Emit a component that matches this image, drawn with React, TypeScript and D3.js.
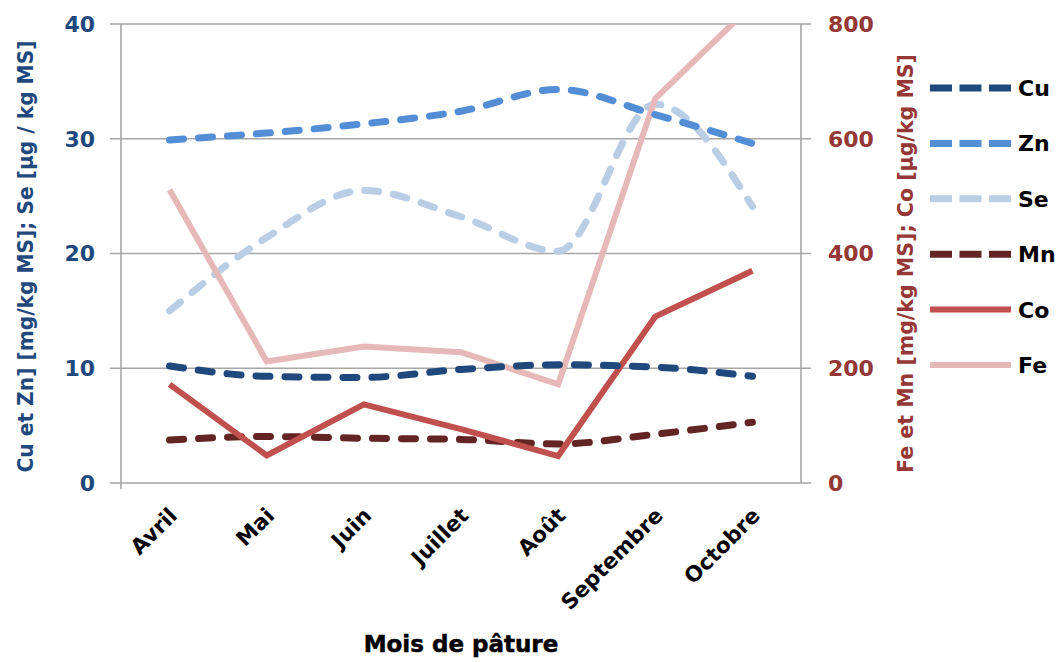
import React from "react";
import * as d3 from "d3";

// Months of grazing (categories)
const months = ["Avril", "Mai", "Juin", "Juillet", "Août", "Septembre", "Octobre"];

// Left axis series: Cu & Zn in mg/kg MS, Se in µg/kg MS
const cu = [10.2, 9.3, 9.2, 9.9, 10.3, 10.1, 9.3];
const zn = [29.9, 30.5, 31.3, 32.4, 34.3, 32.1, 29.6];
const se = [15.0, 21.4, 25.5, 23.2, 20.2, 33.0, 24.1];

// Right axis series: Fe & Mn in mg/kg MS, Co in µg/kg MS
const mn = [75, 81, 78, 76, 68, 85, 106];
const co = [172, 48, 137, 94, 47, 290, 370];
const fe = [511, 212, 238, 228, 172, 670, 834];

const leftTicks = [0, 10, 20, 30, 40];
const rightTicks = [0, 200, 400, 600, 800];

const leftTitle = "Cu et Zn] [mg/kg MS]; Se [µg / kg MS]";
const rightTitle = "Fe et Mn [mg/kg MS]; Co [µg/kg MS]";
const xTitle = "Mois de pâture";

type Series = {
  name: string;
  values: number[];
  axis: "left" | "right";
  color: string;
  dashed: boolean;
};

const series: Series[] = [
  { name: "Cu", values: cu, axis: "left", color: "#1F497D", dashed: true },
  { name: "Zn", values: zn, axis: "left", color: "#538DD5", dashed: true },
  { name: "Se", values: se, axis: "left", color: "#B9CDE5", dashed: true },
  { name: "Mn", values: mn, axis: "right", color: "#632523", dashed: true },
  { name: "Co", values: co, axis: "right", color: "#C0504D", dashed: false },
  { name: "Fe", values: fe, axis: "right", color: "#E6B9B8", dashed: false },
];

// drawing order (back to front)
const drawOrder = ["Mn", "Co", "Se", "Fe", "Zn", "Cu"];

const W = 1062;
const H = 662;
const plot = { left: 121, right: 801, top: 24, bottom: 483 };

const BLUE = "#1F497D";
const RED = "#953735";
const GRID = "#A6A6A6";
const numFont = "'DejaVu Sans', sans-serif";

export default function App() {
  const x = d3
    .scalePoint<string>()
    .domain(months)
    .range([plot.left, plot.right])
    .padding(0.5);
  const yL = d3.scaleLinear().domain([0, 40]).range([plot.bottom, plot.top]);
  const yR = d3.scaleLinear().domain([0, 800]).range([plot.bottom, plot.top]);

  const pathFor = (s: Series) => {
    const y = s.axis === "left" ? yL : yR;
    const gen = d3
      .line<number>()
      .x((_, i) => x(months[i]) as number)
      .y((v) => y(v))
      .curve(s.dashed ? d3.curveMonotoneX : d3.curveLinear);
    return gen(s.values) || "";
  };

  const legendX0 = 930;
  const legendX1 = 1011;
  const legendY0 = 88;
  const legendStep = 55.4;

  const titleMidY = (plot.top + plot.bottom) / 2;

  return (
    <svg
      width={W}
      height={H}
      viewBox={`0 0 ${W} ${H}`}
      style={{ position: "absolute", left: 0, top: 0, background: "#fff" }}
    >
      <defs>
        <clipPath id="plotClip">
          <rect
            x={plot.left - 10}
            y={plot.top}
            width={plot.right - plot.left + 20}
            height={plot.bottom - plot.top + 10}
          />
        </clipPath>
      </defs>

      {/* horizontal gridlines with tick marks on both axes */}
      {leftTicks.map((t) => (
        <line
          key={"g" + t}
          x1={110}
          x2={811}
          y1={yL(t)}
          y2={yL(t)}
          stroke={GRID}
          strokeWidth={1.6}
        />
      ))}
      {/* vertical axis lines */}
      <line x1={plot.left} x2={plot.left} y1={plot.top} y2={489} stroke={GRID} strokeWidth={1.6} />
      <line x1={plot.right} x2={plot.right} y1={plot.top} y2={plot.bottom} stroke={GRID} strokeWidth={1.6} />

      {/* left tick labels */}
      {leftTicks.map((t) => (
        <text
          key={"lt" + t}
          x={95}
          y={yL(t)}
          dy="0.36em"
          textAnchor="end"
          fill={BLUE}
          fontFamily={numFont}
          fontWeight="bold"
          fontSize={22}
        >
          {t}
        </text>
      ))}
      {/* right tick labels */}
      {rightTicks.map((t) => (
        <text
          key={"rt" + t}
          x={828}
          y={yR(t)}
          dy="0.36em"
          textAnchor="start"
          fill={RED}
          fontFamily={numFont}
          fontWeight="bold"
          fontSize={22}
        >
          {t}
        </text>
      ))}

      {/* axis titles */}
      <text
        transform={`translate(25, ${titleMidY + 3}) rotate(-90)`}
        textAnchor="middle"
        dy="0.36em"
        fill={BLUE}
        fontFamily={numFont}
        fontWeight="bold"
        fontSize={21}
        textLength={432}
        lengthAdjust="spacingAndGlyphs"
      >
        {leftTitle}
      </text>
      <text
        transform={`translate(905, ${titleMidY + 10}) rotate(-90)`}
        textAnchor="middle"
        dy="0.36em"
        fill={RED}
        fontFamily={numFont}
        fontWeight="bold"
        fontSize={21}
        textLength={419}
        lengthAdjust="spacingAndGlyphs"
      >
        {rightTitle}
      </text>

      {/* category labels */}
      {months.map((m) => (
        <text
          key={m}
          transform={`translate(${(x(m) as number) + 9}, 517) rotate(-45)`}
          textAnchor="end"
          fill="#000"
          fontFamily={numFont}
          fontWeight="bold"
          fontSize={21.5}
        >
          {m}
        </text>
      ))}
      <text
        x={(plot.left + plot.right) / 2}
        y={652}
        textAnchor="middle"
        fill="#000"
        stroke="#000"
        strokeWidth={0.5}
        fontFamily={numFont}
        fontWeight="bold"
        fontSize={23}
      >
        {xTitle}
      </text>

      {/* series */}
      <g clipPath="url(#plotClip)">
        {drawOrder.map((name) => {
          const s = series.find((d) => d.name === name)!;
          return (
            <path
              key={s.name}
              d={pathFor(s)}
              fill="none"
              stroke={s.color}
              strokeWidth={s.dashed ? 7 : 6}
              strokeDasharray={s.dashed ? "14 15" : undefined}
              strokeLinecap={s.dashed ? "round" : "butt"}
              strokeLinejoin="miter"
            />
          );
        })}
      </g>

      {/* legend */}
      {series.map((s, i) => {
        const ly = legendY0 + i * legendStep;
        return (
          <g key={"lg" + s.name}>
            <line
              x1={legendX0}
              x2={legendX1}
              y1={ly}
              y2={ly}
              stroke={s.color}
              strokeWidth={s.dashed ? 7 : 6}
              strokeDasharray={s.dashed ? "22 7.5" : undefined}
            />
            <text
              x={1018}
              y={ly}
              dy="0.36em"
              fill="#000"
              fontFamily={numFont}
              fontWeight="bold"
              fontSize={22}
            >
              {s.name}
            </text>
          </g>
        );
      })}
    </svg>
  );
}
